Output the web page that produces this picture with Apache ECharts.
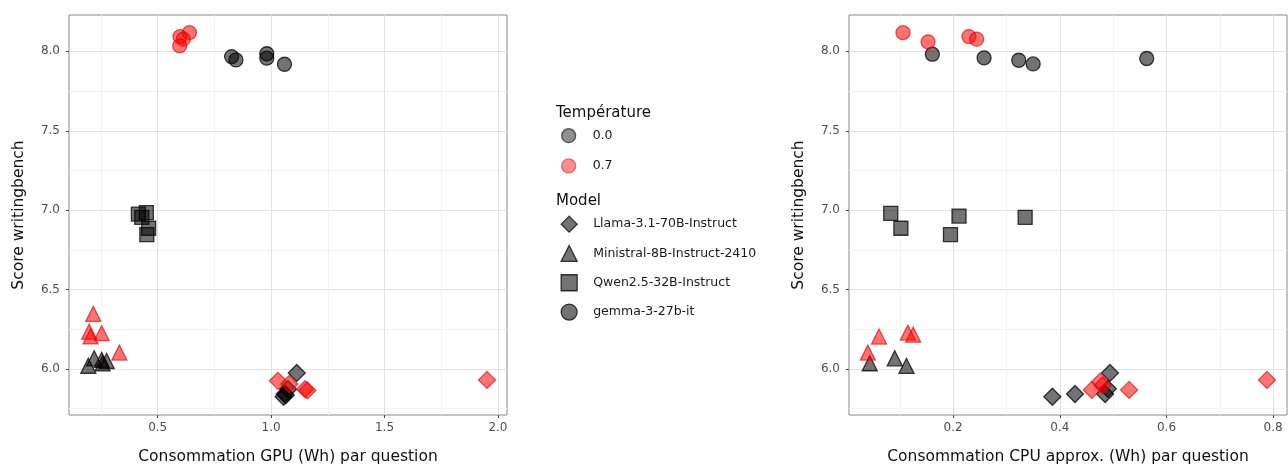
<!DOCTYPE html>
<html><head><meta charset="utf-8">
<script src="https://cdn.jsdelivr.net/npm/echarts@6/dist/echarts.min.js"></script>
<style>html,body{margin:0;padding:0;background:#fff}#c{width:1288px;height:467px}</style>
</head><body><div id="c"></div>
<script>
// ---------- data ----------
const models = ['Llama-3.1-70B-Instruct', 'Ministral-8B-Instruct-2410', 'Qwen2.5-32B-Instruct', 'gemma-3-27b-it'];
const temperatures = ['0.0', '0.7'];

const gpuTicks = [0.5, 1.0, 1.5, 2.0];
const gpuMinorTicks = [0.25, 0.75, 1.25, 1.75];
const cpuTicks = [0.2, 0.4, 0.6, 0.8];
const cpuMinorTicks = [0.1, 0.3, 0.5, 0.7];
const scoreTicks = [6.0, 6.5, 7.0, 7.5, 8.0];
const scoreMinorTicks = [5.75, 6.25, 6.75, 7.25, 7.75];

// GPU panel: [GPU Wh per question, score]
const gpuLlamaT0 = [[1.055, 5.825], [1.06, 5.842], [1.065, 5.836], [1.075, 5.872], [1.113, 5.975]];
const gpuLlamaT07 = [[1.03, 5.925], [1.08, 5.905], [1.15, 5.872], [1.16, 5.865], [1.952, 5.931]];
const gpuMinistralT0 = [[0.194, 6.02], [0.22, 6.067], [0.253, 6.057], [0.275, 6.05], [0.257, 6.035]];
const gpuMinistralT07 = [[0.216, 6.347], [0.198, 6.235], [0.253, 6.225], [0.204, 6.205], [0.331, 6.103]];
const gpuQwenT0 = [[0.415, 6.975], [0.45, 6.985], [0.43, 6.955], [0.46, 6.886], [0.452, 6.846]];
const gpuQwenT07 = [];
const gpuGemmaT0 = [[0.826, 7.967], [0.845, 7.946], [0.981, 7.985], [0.981, 7.957], [1.059, 7.919]];
const gpuGemmaT07 = [[0.64, 8.118], [0.598, 8.093], [0.613, 8.077], [0.597, 8.035]];

// CPU panel: [approx. CPU Wh per question, score]
const cpuLlamaT0 = [[0.386, 5.825], [0.4285, 5.842], [0.485, 5.842], [0.49, 5.875], [0.494, 5.975]];
const cpuLlamaT07 = [[0.46, 5.868], [0.4755, 5.92], [0.48, 5.895], [0.53, 5.868], [0.7885, 5.931]];
const cpuMinistralT0 = [[0.0436, 6.036], [0.0905, 6.067], [0.1125, 6.019]];
const cpuMinistralT07 = [[0.040, 6.103], [0.061, 6.204], [0.115, 6.229], [0.125, 6.216]];
const cpuQwenT0 = [[0.083, 6.98], [0.102, 6.886], [0.195, 6.846], [0.211, 6.963], [0.335, 6.955]];
const cpuQwenT07 = [];
const cpuGemmaT0 = [[0.161, 7.982], [0.258, 7.959], [0.323, 7.944], [0.350, 7.921], [0.563, 7.955]];
const cpuGemmaT07 = [[0.106, 8.118], [0.153, 8.06], [0.2295, 8.093], [0.244, 8.077]];

// ---------- styling ----------
const FONT = 'DejaVu Sans';
const symbols = ['diamond', 'triangle', 'rect', 'circle'];
const symbolSizes = [17, 15, 14, 14];
const fills = ['rgba(0,0,0,0.55)', 'rgba(255,0,0,0.55)'];
const borders = ['rgba(0,0,0,0.75)', 'rgba(225,0,0,0.65)'];

const gpuSets = [[gpuLlamaT0, gpuLlamaT07], [gpuMinistralT0, gpuMinistralT07], [gpuQwenT0, gpuQwenT07], [gpuGemmaT0, gpuGemmaT07]];
const cpuSets = [[cpuLlamaT0, cpuLlamaT07], [cpuMinistralT0, cpuMinistralT07], [cpuQwenT0, cpuQwenT07], [cpuGemmaT0, cpuGemmaT07]];

function majorX(gridIndex, min, max, ticks, name) {
  return {
    type: 'value', gridIndex, min, max, position: 'bottom', name,
    nameLocation: 'middle', nameGap: 34,
    nameTextStyle: { fontSize: 15.5, color: '#111', fontFamily: FONT },
    axisLine: { show: false },
    axisTick: { show: true, length: 3, customValues: ticks, lineStyle: { color: '#444' } },
    axisLabel: { customValues: ticks, fontSize: 12, color: '#4d4d4d', margin: 7, fontFamily: FONT, formatter: v => v.toFixed(1) },
    splitLine: { show: true, lineStyle: { color: '#e2e2e2', width: 1 } }
  };
}
function minorX(gridIndex, min, max, ticks) {
  return {
    type: 'value', gridIndex, min, max, position: 'top',
    axisLine: { show: false },
    axisTick: { show: false, customValues: ticks },
    axisLabel: { show: false, customValues: ticks },
    splitLine: { show: true, lineStyle: { color: '#f3f3f3', width: 1 } }
  };
}
function majorY(gridIndex, min, max, ticks, name) {
  return {
    type: 'value', gridIndex, min, max, position: 'left', name,
    nameLocation: 'middle', nameGap: 42,
    nameTextStyle: { fontSize: 15.5, color: '#111', fontFamily: FONT },
    axisLine: { show: false },
    axisTick: { show: true, length: 3, customValues: ticks, lineStyle: { color: '#444' } },
    axisLabel: { customValues: ticks, fontSize: 12, color: '#4d4d4d', margin: 9, fontFamily: FONT, formatter: v => v.toFixed(1) },
    splitLine: { show: true, lineStyle: { color: '#e2e2e2', width: 1 } }
  };
}
function minorY(gridIndex, min, max, ticks) {
  return {
    type: 'value', gridIndex, min, max, position: 'right',
    axisLine: { show: false },
    axisTick: { show: false, customValues: ticks },
    axisLabel: { show: false, customValues: ticks },
    splitLine: { show: true, lineStyle: { color: '#f3f3f3', width: 1 } }
  };
}

const series = [];
function addPanel(sets, xIdx, yIdx) {
  models.forEach((m, mi) => {
    temperatures.forEach((t, ti) => {
      series.push({
        type: 'scatter', name: m, xAxisIndex: xIdx, yAxisIndex: yIdx,
        data: sets[mi][ti],
        symbol: symbols[mi], symbolSize: symbolSizes[mi],
        itemStyle: { color: fills[ti], borderColor: borders[ti], borderWidth: 1.3, opacity: 1 },
        emphasis: { disabled: true }
      });
    });
  });
}
addPanel(gpuSets, 1, 1);
addPanel(cpuSets, 3, 3);
temperatures.forEach(t => series.push({ type: 'scatter', name: t, data: [], xAxisIndex: 1, yAxisIndex: 1 }));

const legendText = { fontSize: 12.5, color: '#1a1a1a', fontFamily: FONT, padding: [0, 0, 0, 12], lineHeight: 15 };
const gridStyle = { show: true, borderColor: '#888', borderWidth: 1, backgroundColor: 'transparent', outerBoundsMode: 'none', containLabel: false };

const option = {
  animation: false,
  textStyle: { fontFamily: FONT },
  title: [
    { text: 'Température', left: 556, top: 106, padding: 0, textStyle: { fontSize: 15, fontWeight: 'normal', color: '#111', fontFamily: FONT } },
    { text: 'Model', left: 556, top: 194, padding: 0, textStyle: { fontSize: 15, fontWeight: 'normal', color: '#111', fontFamily: FONT } }
  ],
  grid: [
    Object.assign({ left: 69, top: 15, width: 438, height: 400 }, gridStyle),
    Object.assign({ left: 849, top: 15, width: 438, height: 400 }, gridStyle)
  ],
  xAxis: [
    minorX(0, 0.109, 2.04, gpuMinorTicks),
    majorX(0, 0.109, 2.04, gpuTicks, 'Consommation GPU (Wh) par question'),
    minorX(1, 0.0047, 0.826, cpuMinorTicks),
    majorX(1, 0.0047, 0.826, cpuTicks, 'Consommation CPU approx. (Wh) par question')
  ],
  yAxis: [
    minorY(0, 5.71, 8.229, scoreMinorTicks),
    majorY(0, 5.71, 8.229, scoreTicks, 'Score writingbench'),
    minorY(1, 5.71, 8.229, scoreMinorTicks),
    majorY(1, 5.71, 8.229, scoreTicks, 'Score writingbench')
  ],
  legend: [
    {
      orient: 'vertical', left: 561, top: 128, padding: 0, itemWidth: 14, itemHeight: 14, itemGap: 15,
      selectedMode: false, textStyle: legendText,
      data: temperatures.map((t, ti) => ({ name: t, icon: 'circle', itemStyle: { color: fills[ti], borderColor: borders[ti], borderWidth: 1.3 } }))
    },
    {
      orient: 'vertical', left: 560.5, top: 215.5, padding: 0, itemWidth: 16, itemHeight: 16, itemGap: 12,
      selectedMode: false, textStyle: Object.assign({}, legendText, { padding: [0, 0, 0, 11] }),
      data: models.map((m, mi) => ({ name: m, icon: symbols[mi], itemStyle: { color: fills[0], borderColor: borders[0], borderWidth: 1.3 } }))
    }
  ],
  series
};
const chart = echarts.init(document.getElementById('c'), null, { renderer: 'canvas' });
chart.setOption(option);
</script>
</body></html>
